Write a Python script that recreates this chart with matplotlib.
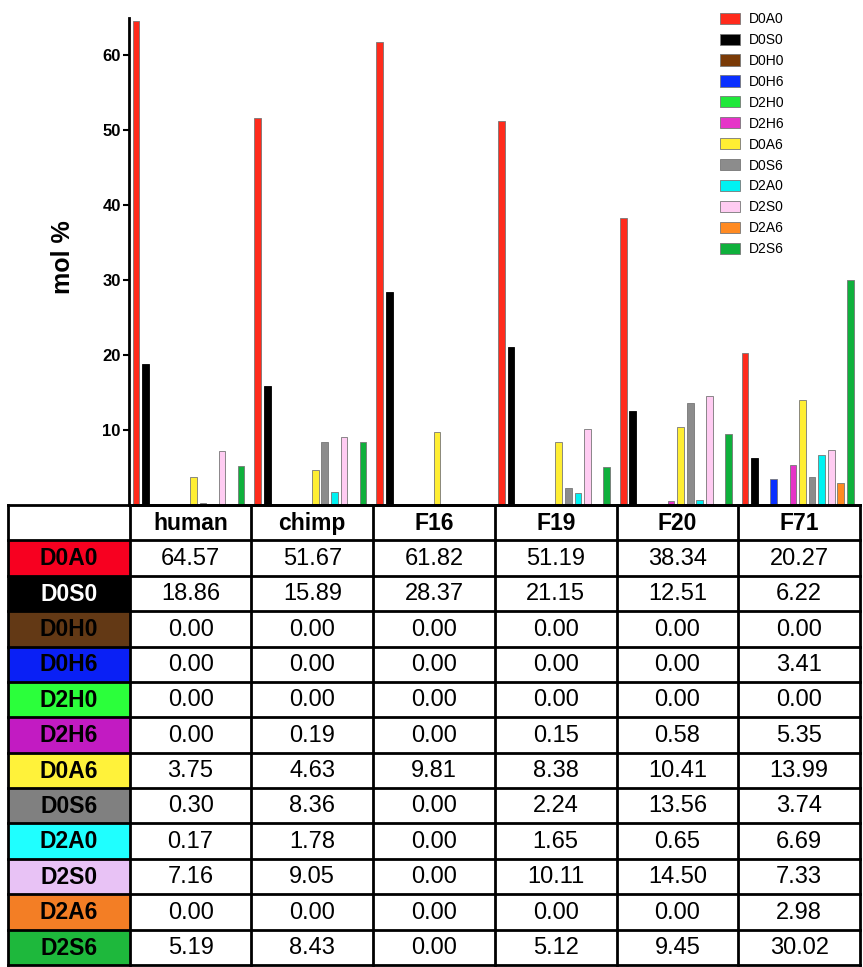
import numpy as np
import matplotlib.pyplot as plt
from matplotlib.patches import Rectangle, Patch

plt.rcParams['font.family'] = ['Liberation Sans', 'DejaVu Sans']

groups = ['human', 'chimp', 'F16', 'F19', 'F20', 'F71']
species = ['D0A0', 'D0S0', 'D0H0', 'D0H6', 'D2H0', 'D2H6',
           'D0A6', 'D0S6', 'D2A0', 'D2S0', 'D2A6', 'D2S6']

# mol % per species (rows) for each group (columns)
D0A0 = [64.57, 51.67, 61.82, 51.19, 38.34, 20.27]
D0S0 = [18.86, 15.89, 28.37, 21.15, 12.51, 6.22]
D0H0 = [0.00, 0.00, 0.00, 0.00, 0.00, 0.00]
D0H6 = [0.00, 0.00, 0.00, 0.00, 0.00, 3.41]
D2H0 = [0.00, 0.00, 0.00, 0.00, 0.00, 0.00]
D2H6 = [0.00, 0.19, 0.00, 0.15, 0.58, 5.35]
D0A6 = [3.75, 4.63, 9.81, 8.38, 10.41, 13.99]
D0S6 = [0.30, 8.36, 0.00, 2.24, 13.56, 3.74]
D2A0 = [0.17, 1.78, 0.00, 1.65, 0.65, 6.69]
D2S0 = [7.16, 9.05, 0.00, 10.11, 14.50, 7.33]
D2A6 = [0.00, 0.00, 0.00, 0.00, 0.00, 2.98]
D2S6 = [5.19, 8.43, 0.00, 5.12, 9.45, 30.02]
values = [D0A0, D0S0, D0H0, D0H6, D2H0, D2H6, D0A6, D0S6, D2A0, D2S0, D2A6, D2S6]

bar_colors = ['#ff2b1c', '#000000', '#7a3a06', '#0a30ff', '#1fe83a', '#e634c8',
              '#ffee33', '#8c8c8c', '#00f2f2', '#ffccf2', '#ff8a22', '#0fb03c']
cell_colors = ['#f70020', '#000000', '#633915', '#0a20f5', '#2bff3b', '#c21bc2',
               '#fff23a', '#808080', '#1fffff', '#e8c2f5', '#f37e25', '#1eb83c']
text_colors = ['black', 'white'] + ['black'] * 10

W, H = 863, 967
fig = plt.figure(figsize=(W / 100, H / 100), dpi=100)

# ---- bar chart ----
ax = fig.add_axes([129 / W, 1 - 505 / H, 731 / W, 487 / H])
step = 0.0785
for j, (name, vals) in enumerate(zip(species, values)):
    x = np.arange(len(groups)) - 0.5 + 0.057 + j * step
    ax.bar(x, vals, width=0.055, color=bar_colors[j],
           edgecolor='#777777' if j != 1 else 'black', linewidth=0.6, label=name)

ax.set_xlim(-0.5, 5.5)
ax.set_ylim(0, 65)
ax.set_yticks([10, 20, 30, 40, 50, 60])
ax.set_xticks([])
for s in ['top', 'right']:
    ax.spines[s].set_visible(False)
ax.spines['left'].set_linewidth(2)
ax.spines['bottom'].set_linewidth(2)
ax.tick_params(axis='y', width=1.5, length=4, pad=2, labelsize=12)
for lab in ax.get_yticklabels():
    lab.set_fontweight('bold')
fig.text(63 / W, 1 - 257 / H, 'mol %', rotation=90, ha='center', va='center',
         fontsize=18, fontweight='bold')

handles = [Patch(facecolor=c, edgecolor='#777777', linewidth=0.6) for c in bar_colors]
fig.legend(handles, species, loc='upper left', bbox_to_anchor=(713 / W, 1 - 5 / H),
           frameon=False, fontsize=10, borderpad=0, handlelength=1.45,
           handleheight=0.85, labelspacing=0.5, handletextpad=0.6)

# ---- table ----
tx = fig.add_axes([8 / W, 1 - 965 / H, 852 / W, 460 / H])
ncol = len(groups) + 1
nrow = len(species) + 1
tx.set_xlim(0, ncol)
tx.set_ylim(nrow, 0)
tx.axis('off')

for i, name in enumerate(species):
    r = i + 1
    tx.add_patch(Rectangle((0, r), 1, 1, facecolor=cell_colors[i], edgecolor='none'))
    tx.text(0.5, r + 0.52, name, ha='center', va='center', fontsize=16.5,
            fontweight='bold', color=text_colors[i])
    for g in range(len(groups)):
        tx.text(g + 1.5, r + 0.52, f'{values[i][g]:.2f}', ha='center', va='center',
                fontsize=17)
for g, name in enumerate(groups):
    tx.text(g + 1.5, 0.52, name, ha='center', va='center', fontsize=16.5,
            fontweight='bold')

for r in range(nrow + 1):
    tx.plot([0, ncol], [r, r], color='black', lw=2, clip_on=False)
for c in range(ncol + 1):
    tx.plot([c, c], [0, nrow], color='black', lw=2, clip_on=False)

fig.savefig('out.png', dpi=100)
